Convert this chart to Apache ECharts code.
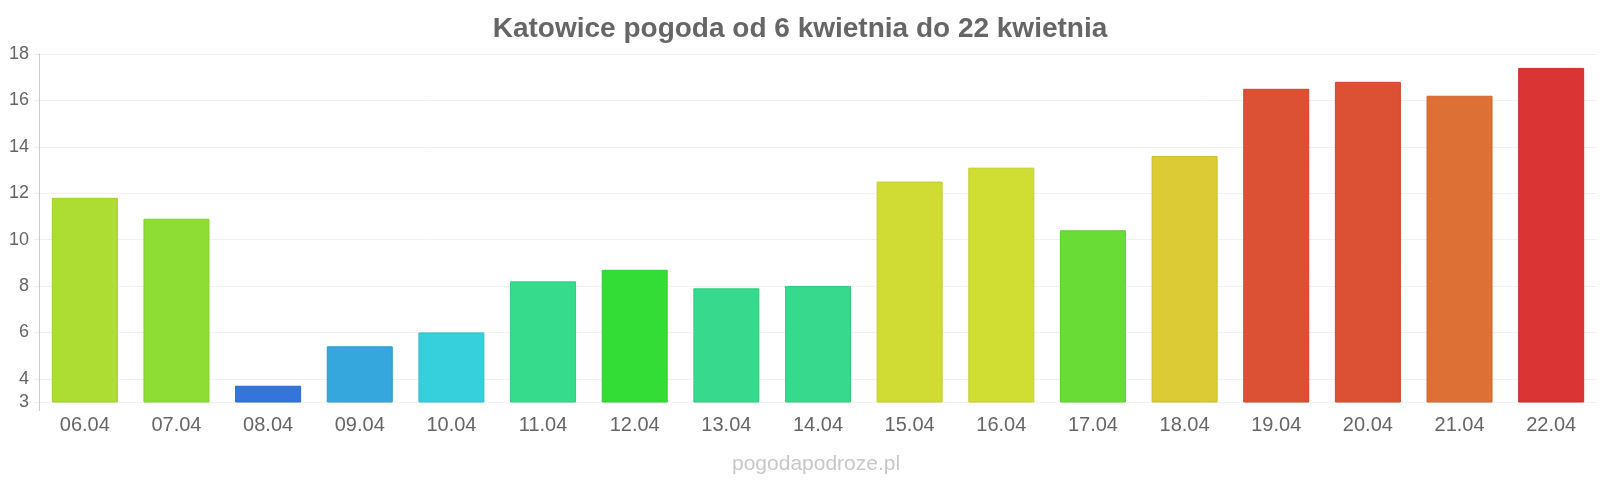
<!DOCTYPE html>
<html>
<head>
<meta charset="utf-8">
<script src="https://cdn.jsdelivr.net/npm/echarts@6/dist/echarts.min.js"></script>
<style>html,body{margin:0;padding:0;background:#fff;}#chart{width:1600px;height:480px;}</style>
</head>
<body>
<div id="chart"></div>
<script>
const categories = ['06.04','07.04','08.04','09.04','10.04','11.04','12.04','13.04','14.04','15.04','16.04','17.04','18.04','19.04','20.04','21.04','22.04'];
const temps = [11.8, 10.9, 3.7, 5.4, 6.0, 8.2, 8.7, 7.9, 8.0, 12.5, 13.1, 10.4, 13.6, 16.5, 16.8, 16.2, 17.4];
const barColors = ['#addc33','#8ddd35','#3575db','#36a7dc','#36cfdc','#37db8c','#34dd36','#37da8c','#37da8c','#d0db33','#d0dd33','#69dd35','#dccb34','#dc5034','#dc5034','#dd7035','#db3434'];
const borderColors = ['#9fcf28','#80d02a','#2f68cc','#2f98cc','#30c0cc','#30cc7f','#2cce2e','#30cc7f','#30cc7f','#c2cc2c','#c2ce2c','#5dce2c','#cdbd2c','#cd452c','#cd452c','#ce642c','#cc2c2c'];
const yTicks = [3, 4, 6, 8, 10, 12, 14, 16, 18];
const yMin = 3, yMax = 18;

const chart = echarts.init(document.getElementById('chart'));
chart.setOption({
  animation: false,
  backgroundColor: '#fff',
  title: [{
    text: 'Katowice pogoda od 6 kwietnia do 22 kwietnia',
    left: 'center', top: 10,
    textStyle: { fontFamily: 'Liberation Sans', fontSize: 28, fontWeight: 'bold', color: '#666' }
  }, {
    text: 'pogodapodroze.pl',
    left: 732, top: 454,
    padding: 0,
    textStyle: { fontFamily: 'Liberation Sans', fontSize: 21, fontWeight: 'normal', color: '#c8c8c8' }
  }],
  grid: { left: 39, right: 3, top: 54, bottom: 78, containLabel: false },
  xAxis: {
    type: 'category',
    data: categories,
    boundaryGap: true,
    axisLine: { show: false },
    axisTick: { show: false },
    axisLabel: { fontFamily: 'Liberation Sans', fontSize: 20, color: '#666', margin: 13, interval: 0 },
    splitLine: { show: false }
  },
  yAxis: {
    type: 'value',
    min: yMin, max: yMax, interval: 1,
    axisLine: { show: true, lineStyle: { color: '#ccc', width: 1 } },
    axisTick: { show: true, length: 5, customValues: yTicks, lineStyle: { color: '#eee' } },
    axisLabel: { fontFamily: 'Liberation Sans', fontSize: 18, color: '#666', margin: 10, customValues: yTicks },
    splitLine: { show: false }
  },
  series: [{
    type: 'bar',
    data: temps.map((v, i) => ({
      value: v,
      itemStyle: { color: barColors[i], borderColor: borderColors[i], borderWidth: 1 }
    })),
    barCategoryGap: '28%',
    markLine: {
      silent: true,
      symbol: 'none',
      label: { show: false },
      lineStyle: { color: '#f2f2f2', type: 'solid', width: 1 },
      data: yTicks.map(t => ({ yAxis: t })),
      z: 0
    },
    z: 2
  }]
});
// extend the y-axis line a little below the plot, as in the reference
const rect = chart.getModel().getComponent('grid').coordinateSystem.getRect();
chart.setOption({
  graphic: [{
    type: 'line',
    shape: { x1: rect.x + 0.5, y1: rect.y + rect.height, x2: rect.x + 0.5, y2: rect.y + rect.height + 9 },
    style: { stroke: '#ccc', lineWidth: 1 },
    silent: true
  }]
});
</script>
</body>
</html>
